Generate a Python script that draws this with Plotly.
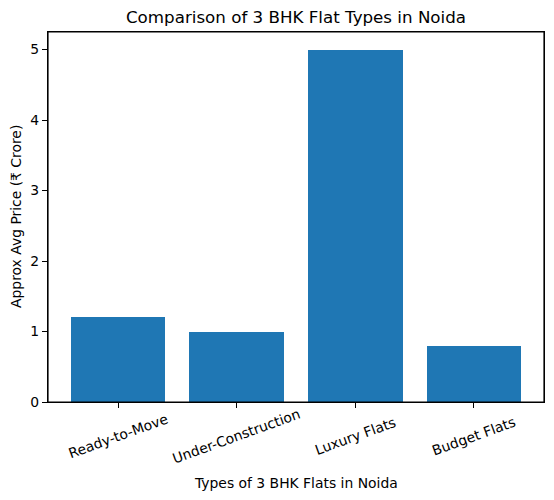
import plotly.graph_objects as go

flat_types = ['Ready-to-Move', 'Under-Construction', 'Luxury Flats', 'Budget Flats']
avg_price = [1.2, 1.0, 5.0, 0.8]
y_ticks = [0, 1, 2, 3, 4, 5]

mpl_blue = '#1f77b4'
font_name = 'DejaVu Sans'

fig = go.Figure(go.Bar(x=list(range(len(flat_types))), y=avg_price,
                       width=0.8, marker={'color': mpl_blue, 'line': {'width': 0}}))

# rotated category labels, centred under ticks like matplotlib does
annots = []
for i, name in enumerate(flat_types):
    annots.append(dict(x=i, y=0, xref='x', yref='paper', text=name, showarrow=False,
                       textangle=-20, xanchor='center', yanchor='middle', yshift=-34,
                       font={'size': 13.9, 'family': font_name, 'color': 'black'}))
annots.append(dict(x=0.5, y=0, xref='paper', yref='paper', text='Types of 3 BHK Flats in Noida',
                   showarrow=False, xanchor='center', yanchor='middle', yshift=-81,
                   font={'size': 13.9, 'family': font_name, 'color': 'black'}))
annots.append(dict(x=0, y=0.5, xref='paper', yref='paper', text='Approx Avg Price (₹ Crore)',
                   showarrow=False, textangle=-90, xanchor='center', yanchor='middle', xshift=-32,
                   font={'size': 13.9, 'family': font_name, 'color': 'black'}))

fig.update_layout(
    width=554, height=500,
    margin={'l': 48, 'r': 10, 't': 32, 'b': 98},
    plot_bgcolor='white', paper_bgcolor='white',
    font={'family': font_name, 'size': 13.9, 'color': 'black'},
    title={'text': 'Comparison of 3 BHK Flat Types in Noida', 'x': 0.5, 'xref': 'paper',
           'xanchor': 'center', 'y': 0.965, 'yref': 'container', 'yanchor': 'middle',
           'font': {'size': 16.7, 'family': font_name, 'color': 'black'}},
    xaxis={'range': [-0.59, 3.59], 'tickvals': list(range(len(flat_types))),
           'showticklabels': False, 'ticks': 'outside', 'ticklen': 5, 'tickwidth': 1.1,
           'tickcolor': 'black', 'showline': True, 'linecolor': 'black', 'linewidth': 1.2,
           'mirror': True, 'showgrid': False, 'zeroline': False},
    yaxis={'range': [0, 5.25], 'tickvals': y_ticks, 'ticks': 'outside', 'ticklen': 5,
           'tickwidth': 1.1, 'tickcolor': 'black', 'showline': True, 'linecolor': 'black',
           'linewidth': 1.2, 'mirror': True, 'showgrid': False, 'zeroline': False,
           'tickfont': {'size': 13.9, 'family': font_name, 'color': 'black'}},
    annotations=annots,
    shapes=[dict(type='rect', xref='paper', yref='paper', x0=0, x1=1, y0=0, y1=1,
                 line={'color': 'black', 'width': 1.2}, layer='above')],
    showlegend=False,
    bargap=0,
)

# page body has an 8px default margin, drop it so the figure sits at 0,0
fig.write_html("out.html", config={'displayModeBar': False},
               post_script="document.body.style.margin='0';")
